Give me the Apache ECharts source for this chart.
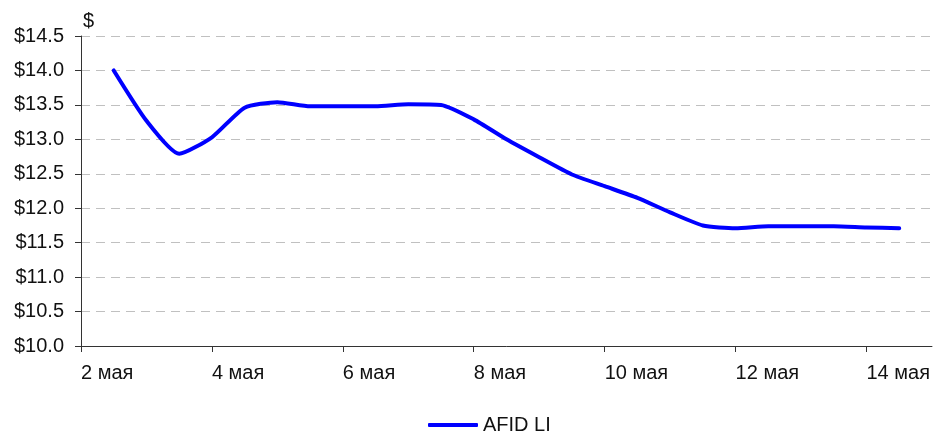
<!DOCTYPE html>
<html>
<head>
<meta charset="utf-8">
<script src="https://cdn.jsdelivr.net/npm/echarts@6/dist/echarts.min.js"></script>
<style>
html,body{margin:0;padding:0;background:#fff;}
#chart{width:933px;height:432px;}
</style>
</head>
<body>
<div id="chart"></div>
<script>
// Days of May (half-day steps) and closing prices
var days = [2.5, 3.0, 3.5, 4.0, 4.5, 5.0, 5.5, 6.0, 6.5, 7.0, 7.5, 8.0, 8.5, 9.0, 9.5, 10.0, 10.5, 11.0, 11.5, 12.0, 12.5, 13.0, 13.5, 14.0, 14.5];
var prices = [14.00, 13.27, 12.79, 13.03, 13.46, 13.54, 13.48, 13.48, 13.48, 13.51, 13.50, 13.29, 13.00, 12.74, 12.49, 12.32, 12.15, 11.94, 11.75, 11.71, 11.74, 11.74, 11.74, 11.72, 11.71];
var tickDays = [2, 4, 6, 8, 10, 12, 14];
var seriesName = 'AFID LI';

var chart = echarts.init(document.getElementById('chart'));
var font = 'Liberation Sans, Arial, sans-serif';
chart.setOption({
  animation: false,
  backgroundColor: '#fff',
  grid: {left: 81, right: 1, top: 36, bottom: 86, containLabel: false},
  legend: {
    left: 423, top: 410,
    itemWidth: 50, itemHeight: 4, itemGap: 10,
    textStyle: {fontFamily: font, fontSize: 20, color: '#111'},
    data: [{name: seriesName, icon: 'roundRect', itemStyle: {color: '#0000ff'}}]
  },
  xAxis: {
    type: 'value', min: 2, max: 15,
    axisLine: {show: true, lineStyle: {color: '#333', width: 1}},
    axisTick: {show: true, length: 6, inside: false, customValues: tickDays, lineStyle: {color: '#333'}},
    axisLabel: {
      customValues: tickDays, align: 'left', margin: 17,
      fontFamily: font, fontSize: 20, color: '#111',
      formatter: function (v) { return v + ' мая'; }
    },
    splitLine: {show: false}
  },
  yAxis: {
    type: 'value', min: 10, max: 14.5, interval: 0.5,
    name: '$', nameLocation: 'end', nameGap: 5,
    nameTextStyle: {fontFamily: font, fontSize: 20, color: '#111', align: 'left', padding: [0, 0, 0, 2]},
    axisLine: {show: true, lineStyle: {color: '#333', width: 1}},
    axisTick: {show: true, length: 6, lineStyle: {color: '#333'}},
    axisLabel: {
      margin: 17, fontFamily: font, fontSize: 20, color: '#111',
      formatter: function (v) { return '$' + v.toFixed(1); }
    },
    splitLine: {show: true, lineStyle: {color: '#c0c0c0', type: [9, 6], width: 1}}
  },
  series: [{
    name: seriesName,
    type: 'line',
    data: days.map(function (d, i) { return [d, prices[i]]; }),
    smooth: 0.2,
    showSymbol: false,
    symbol: 'none',
    lineStyle: {color: '#0000ff', width: 4, cap: 'round', join: 'round'},
    itemStyle: {color: '#0000ff'}
  }]
});
</script>
</body>
</html>
